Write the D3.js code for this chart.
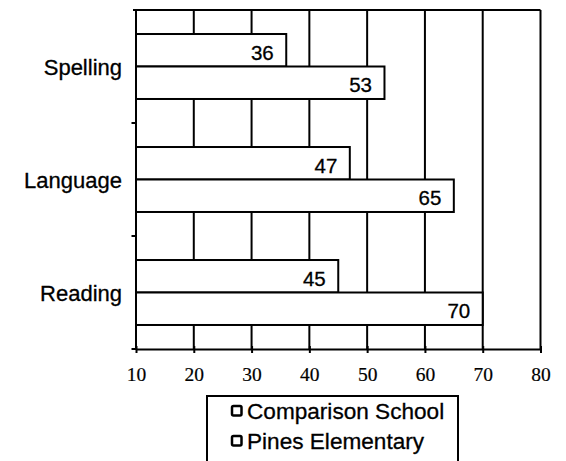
<!DOCTYPE html>
<html>
<head>
<meta charset="utf-8">
<script src="https://cdn.jsdelivr.net/npm/d3@7"></script>
<style>
  html, body { margin: 0; padding: 0; background: #fff; }
  svg { display: block; }
</style>
</head>
<body>
<svg id="chart" width="566" height="461"></svg>
<script>
// Test subjects, listed top to bottom
const categories = ["Spelling", "Language", "Reading"];
const seriesNames = ["Comparison School", "Pines Elementary"];
const comparisonValues = [36, 47, 45];
const pinesValues = [53, 65, 70];
const xTicks = [10, 20, 30, 40, 50, 60, 70, 80];

const svg = d3.select("#chart");

const plot = { left: 136, right: 540.5, top: 10, bottom: 349 };

const x = d3.scaleLinear().domain([10, 80]).range([plot.left, plot.right]);

const y0 = d3.scaleBand()
  .domain(categories)
  .range([plot.top, plot.bottom])
  .paddingInner(0.425)
  .paddingOuter(0.2125);

const y1 = d3.scaleBand()
  .domain(seriesNames)
  .range([0, y0.bandwidth()]);

const rows = categories.map((c, i) => ({
  category: c,
  values: [
    { series: seriesNames[0], value: comparisonValues[i] },
    { series: seriesNames[1], value: pinesValues[i] }
  ]
}));

// Vertical gridlines
svg.append("g")
  .selectAll("line")
  .data(xTicks.slice(1))
  .join("line")
  .attr("x1", d => x(d)).attr("x2", d => x(d))
  .attr("y1", plot.top).attr("y2", plot.bottom)
  .attr("stroke", "#000").attr("stroke-width", 2);

// Top frame line
svg.append("line")
  .attr("x1", plot.left - 3).attr("x2", plot.right)
  .attr("y1", plot.top).attr("y2", plot.top)
  .attr("stroke", "#000").attr("stroke-width", 2);

// Bars
const groups = svg.append("g")
  .selectAll("g")
  .data(rows)
  .join("g")
  .attr("transform", d => `translate(0,${y0(d.category)})`);

groups.selectAll("rect")
  .data(d => d.values)
  .join("rect")
  .attr("x", x(10))
  .attr("y", d => y1(d.series))
  .attr("width", d => x(d.value) - x(10))
  .attr("height", y1.bandwidth())
  .attr("fill", "#fff")
  .attr("stroke", "#000")
  .attr("stroke-width", 2);

groups.selectAll("text")
  .data(d => d.values)
  .join("text")
  .attr("x", d => x(d.value) - 12.5)
  .attr("y", d => y1(d.series) + y1.bandwidth() / 2 + 2)
  .attr("text-anchor", "end")
  .attr("dominant-baseline", "central")
  .attr("font-family", "'Liberation Sans', Arial, sans-serif")
  .attr("font-size", 20.5)
  .attr("fill", "#000")
  .attr("stroke", "#000")
  .attr("stroke-width", 0.3)
  .text(d => d.value);

// Left axis line with ticks at category boundaries
svg.append("line")
  .attr("x1", plot.left).attr("x2", plot.left)
  .attr("y1", plot.top).attr("y2", plot.bottom)
  .attr("stroke", "#000").attr("stroke-width", 2);

const step = y0.step();
const boundaries = d3.range(categories.length - 1).map(i => y0(categories[i + 1]) - step * y0.paddingInner() / 2);
svg.append("g")
  .selectAll("line")
  .data(boundaries)
  .join("line")
  .attr("x1", plot.left - 4.5).attr("x2", plot.left)
  .attr("y1", d => d).attr("y2", d => d)
  .attr("stroke", "#000").attr("stroke-width", 2);

// Category labels
svg.append("g")
  .selectAll("text")
  .data(categories)
  .join("text")
  .attr("x", plot.left - 14)
  .attr("y", d => y0(d) + y0.bandwidth() / 2 + 1)
  .attr("text-anchor", "end")
  .attr("dominant-baseline", "central")
  .attr("font-family", "'Liberation Sans', Arial, sans-serif")
  .attr("font-size", 22)
  .attr("fill", "#000")
  .attr("stroke", "#000")
  .attr("stroke-width", 0.3)
  .text(d => d);

// Bottom axis
const xAxis = d3.axisBottom(x)
  .tickValues(xTicks)
  .tickSizeInner(4)
  .tickSizeOuter(0)
  .tickPadding(14);

const gx = svg.append("g")
  .attr("transform", `translate(0,${plot.bottom})`)
  .call(xAxis);

gx.select(".domain").attr("stroke", "#000").attr("stroke-width", 2);
gx.selectAll(".tick line").attr("y1", -3).attr("stroke", "#000").attr("stroke-width", 2);
gx.selectAll(".tick text")
  .attr("font-family", "'Liberation Serif', 'Times New Roman', serif")
  .attr("font-size", 19.5)
  .attr("fill", "#000")
  .attr("stroke", "#000")
  .attr("stroke-width", 0.2);

svg.append("line")
  .attr("x1", plot.left - 4.5).attr("x2", plot.left)
  .attr("y1", plot.bottom).attr("y2", plot.bottom)
  .attr("stroke", "#000").attr("stroke-width", 2);

// Legend
const legend = svg.append("g").attr("transform", "translate(207,396)");
legend.append("rect")
  .attr("x", 0).attr("y", 0)
  .attr("width", 251).attr("height", 80)
  .attr("fill", "#fff")
  .attr("stroke", "#000")
  .attr("stroke-width", 2);

const items = legend.selectAll("g.item")
  .data(seriesNames)
  .join("g")
  .attr("class", "item")
  .attr("transform", (d, i) => `translate(25,${15 + i * 30})`);

items.append("rect")
  .attr("x", 0).attr("y", -5)
  .attr("width", 9.5).attr("height", 9.5)
  .attr("rx", 1.5)
  .attr("fill", "#fff")
  .attr("stroke", "#000")
  .attr("stroke-width", 2.5);

items.append("text")
  .attr("x", 15)
  .attr("y", 0)
  .attr("dominant-baseline", "central")
  .attr("font-family", "'Liberation Sans', Arial, sans-serif")
  .attr("font-size", 22.6)
  .attr("fill", "#000")
  .attr("stroke", "#000")
  .attr("stroke-width", 0.3)
  .text(d => d);
</script>
</body>
</html>
